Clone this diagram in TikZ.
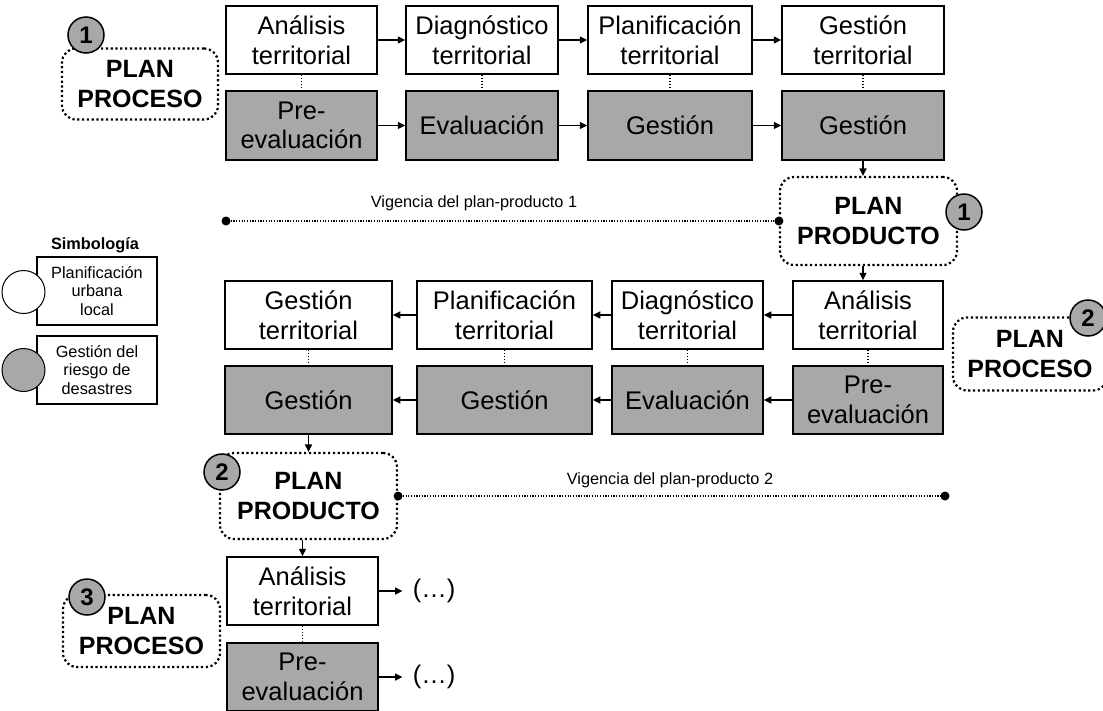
\documentclass[tikz,border=0pt]{standalone}
\usepackage{fontspec}
\setmainfont{Liberation Sans}
\usetikzlibrary{arrows.meta}
\definecolor{boxgray}{RGB}{168,168,168}
\newcommand\boxfont{\fontsize{25.5pt}{29.5pt}\selectfont}
\newcommand\planfont{\fontsize{25pt}{29.5pt}\selectfont\bfseries}
\newcommand\legfont{\fontsize{16.3pt}{18.8pt}\selectfont}
\newcommand\spanfont{\fontsize{16.3pt}{19pt}\selectfont}
\newcommand\numfont{\fontsize{24pt}{24pt}\selectfont\bfseries}

\begin{document}
\begin{tikzpicture}[x=1pt,y=-1pt,
  flow/.style={draw=black, line width=1.5pt, align=center, inner sep=0pt,
    font=\boxfont, minimum height=68pt},
  wbox/.style={flow, fill=white},
  gbox/.style={flow, fill=boxgray},
  planbox/.style={draw=black, line width=2.2pt, dash pattern=on 2.2pt off 2.6pt,
    rounded corners=14pt, align=center, inner sep=0pt, font=\planfont, fill=white},
  badge/.style={circle, draw=black, line width=1.5pt, fill=boxgray, inner sep=0pt,
    minimum size=36pt, font=\numfont},
  flowarrow/.style={line width=1.5pt, -{Triangle[length=7.5pt,width=7pt]}},
  link/.style={line width=1.3pt, dash pattern=on 1.4pt off 1.6pt},
  span/.style={line width=1.2pt, dash pattern=on 1.2pt off 1.5pt},
  enddot/.style={circle, fill=black, inner sep=0pt, minimum size=9pt},
  legbox/.style={draw=black, line width=1.2pt, align=center, inner sep=0pt,
    font=\legfont, minimum width=120pt, minimum height=68pt},
  legdot/.style={circle, draw=black, line width=1pt, minimum size=43pt, inner sep=0pt},
]
\useasboundingbox (0,0) rectangle (1103,710);
\clip (0,0) rectangle (1103,710);

% ---- first cycle (left to right) ----
\node[wbox, minimum width=151pt] (A1) at (301.5,40) {Análisis\\territorial};
\node[wbox, minimum width=152pt] (A2) at (482,40) {Diagnóstico\\territorial};
\node[wbox, minimum width=164pt] (A3) at (670,40) {Planificación\\territorial};
\node[wbox, minimum width=162pt] (A4) at (863,40) {Gestión\\territorial};
\node[gbox, minimum width=151pt, minimum height=69pt] (G1) at (301.5,125.5) {Pre-\\evaluación};
\node[gbox, minimum width=152pt, minimum height=69pt] (G2) at (482,125.5) {Evaluación};
\node[gbox, minimum width=164pt, minimum height=69pt] (G3) at (670,125.5) {Gestión};
\node[gbox, minimum width=162pt, minimum height=69pt] (G4) at (863,125.5) {Gestión};

\foreach \a/\b in {A1/A2,A2/A3,A3/A4,G1/G2,G2/G3,G3/G4}
  \draw[flowarrow] (\a.east) -- (\b.west);
\foreach \a/\b in {A1/G1,A2/G2,A3/G3,A4/G4}
  \draw[link] (\a.south) -- (\b.north);

\node[planbox, minimum width=156pt, minimum height=71pt] (PR1) at (140,84) {PLAN\\PROCESO};
\node[badge] (N1a) at (86,35) {1};

% ---- first plan-product ----
\node[planbox, minimum width=177pt, minimum height=88pt] (PP1) at (868.5,221) {PLAN\\PRODUCTO};
\node[badge] (N1b) at (964,212) {1};
\draw[flowarrow] (G4.south) -- (G4.south |- PP1.north);

\node[enddot] (V1a) at (226,221) {};
\node[enddot] (V1b) at (PP1.west) {};
\draw[span] (V1a) -- (V1b);
\node[font=\spanfont] (V1t) at (474,203) {Vigencia del plan-producto 1};

% ---- second cycle (right to left) ----
\node[wbox, minimum width=150pt] (B1) at (868,315) {Análisis\\territorial};
\node[wbox, minimum width=151pt] (B2) at (687.5,315) {Diagnóstico\\territorial};
\node[wbox, minimum width=175pt] (B3) at (504.5,315) {Planificación\\territorial};
\node[wbox, minimum width=167pt] (B4) at (308.5,315) {Gestión\\territorial};
\node[gbox, minimum width=150pt] (H1) at (868,400) {Pre-\\evaluación};
\node[gbox, minimum width=151pt] (H2) at (687.5,400) {Evaluación};
\node[gbox, minimum width=175pt] (H3) at (504.5,400) {Gestión};
\node[gbox, minimum width=167pt] (H4) at (308.5,400) {Gestión};

\draw[flowarrow] (PP1.south -| G4.south) -- (B1.north -| G4.south);
\foreach \a/\b in {B1/B2,B2/B3,B3/B4,H1/H2,H2/H3,H3/H4}
  \draw[flowarrow] (\a.west) -- (\b.east);
\foreach \a/\b in {B1/H1,B2/H2,B3/H3,B4/H4}
  \draw[link] (\a.south) -- (\b.north);

\node[planbox, minimum width=154pt, minimum height=73pt] (PR2) at (1030,354) {PLAN\\PROCESO};
\node[badge] (N2a) at (1088,318) {2};

% ---- second plan-product ----
\node[planbox, minimum width=177pt, minimum height=86pt] (PP2) at (308.5,496) {PLAN\\PRODUCTO};
\node[badge] (N2b) at (222,472) {2};
\draw[flowarrow] (H4.south) -- (H4.south |- PP2.north);

\node[enddot] (V2a) at (PP2.east) {};
\node[enddot] (V2b) at (945,496) {};
\draw[span] (V2a) -- (V2b);
\node[font=\spanfont] (V2t) at (670,480) {Vigencia del plan-producto 2};

% ---- third cycle ----
\node[wbox, minimum width=151pt] (C1) at (302.5,591) {Análisis\\territorial};
\node[gbox, minimum width=151pt] (K1) at (302.5,677) {Pre-\\evaluación};
\draw[link] (C1.south) -- (K1.north);
\draw[flowarrow] (PP2.south -| C1.north) -- (C1.north);

\node[font=\boxfont, inner sep=0pt] (E1) at (434,591) {(…)};
\node[font=\boxfont, inner sep=0pt] (E2) at (434,677) {(…)};
\draw[flowarrow] (C1.east) -- ([xshift=-10pt]E1.west);
\draw[flowarrow] (K1.east) -- ([xshift=-10pt]E2.west);

\node[planbox, minimum width=157pt, minimum height=72pt] (PR3) at (141.5,631) {PLAN\\PROCESO};
\node[badge] (N3) at (87,597) {3};

% ---- legend ----
\node[font=\legfont\bfseries] (LT) at (95,245) {Simbología};
\node[legbox] (L1) at (97,291) {Planificación\\urbana\\local};
\node[legbox] (L2) at (97,370) {Gestión del\\riesgo de\\desastres};
\node[legdot, fill=white] (LD1) at (23.5,292) {};
\node[legdot, fill=boxgray] (LD2) at (23.5,370) {};
\end{tikzpicture}
\end{document}
